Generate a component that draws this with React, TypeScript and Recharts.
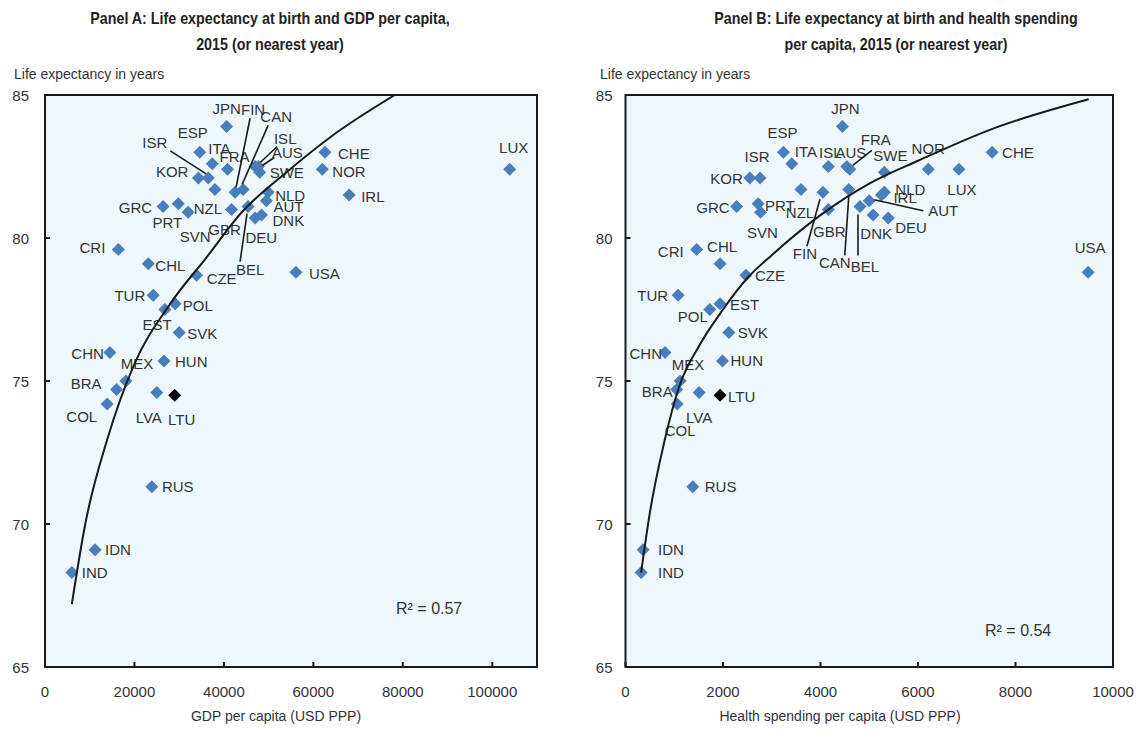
import { ScatterChart, Scatter, XAxis, YAxis, ReferenceArea } from "recharts";

// Country codes shared by both panels
const COUNTRIES = [
  "JPN", "ESP", "CHE", "ITA", "ISL", "AUS", "FRA", "ISR", "SWE", "KOR", "NOR",
  "LUX", "CAN", "NZL", "FIN", "NLD", "IRL", "AUT", "PRT", "BEL", "GRC", "GBR",
  "SVN", "DNK", "DEU", "CRI", "CHL", "USA", "CZE", "TUR", "EST", "POL", "SVK",
  "CHN", "HUN", "MEX", "BRA", "LVA", "LTU", "COL", "RUS", "IDN", "IND",
];

// Life expectancy at birth (years)
const LIFE_EXP = [
  83.9, 83.0, 83.0, 82.6, 82.5, 82.5, 82.4, 82.1, 82.3, 82.1, 82.4,
  82.4, 81.7, 81.7, 81.6, 81.6, 81.5, 81.3, 81.2, 81.1, 81.1, 81.0,
  80.9, 80.8, 80.7, 79.6, 79.1, 78.8, 78.7, 78.0, 77.7, 77.5, 76.7,
  76.0, 75.7, 75.0, 74.7, 74.6, 74.5, 74.2, 71.3, 69.1, 68.3,
];

// GDP per capita (USD PPP)
const GDP_PC = [
  40600, 34600, 62600, 37400, 47000, 47700, 40800, 36500, 48000, 34300, 62000,
  103900, 44300, 38000, 42500, 49900, 68000, 49500, 29800, 45400, 26400, 41700,
  32000, 48400, 47000, 16400, 23100, 56100, 33900, 24200, 29100, 26800, 30000,
  14500, 26600, 18100, 16000, 25000, 29000, 13900, 23900, 11200, 6000,
];

// Health spending per capita (USD PPP)
const HEALTH_PC = [
  4450, 3240, 7520, 3410, 4160, 4540, 4600, 2760, 5310, 2550, 6210,
  6840, 4580, 3600, 4050, 5310, 5250, 5000, 2720, 4810, 2280, 4160,
  2770, 5080, 5390, 1460, 1940, 9490, 2470, 1080, 1940, 1730, 2120,
  810, 1990, 1120, 1050, 1510, 1940, 1060, 1380, 360, 320,
];

const HIGHLIGHT = "LTU";

// Logarithmic trend lines
const TREND_GDP_X = [6000, 9000, 14000, 20000, 28000, 36000, 44000, 54000, 64000, 78200];
const TREND_GDP_Y = [67.2, 70.0, 73.0, 75.6, 77.7, 79.3, 80.9, 82.3, 83.55, 85.0];
const TREND_HEALTH_X = [320, 500, 800, 1100, 1500, 2000, 2500, 3000, 4000, 5000, 6000, 7500, 9500];
const TREND_HEALTH_Y = [68.3, 70.4, 72.9, 74.8, 76.2, 77.5, 78.6, 79.4, 80.8, 81.9, 82.7, 83.8, 84.85];

const GDP_TICKS = [0, 20000, 40000, 60000, 80000, 100000];
const HEALTH_TICKS = [0, 2000, 4000, 6000, 8000, 10000];
const LIFE_TICKS = [65, 70, 75, 80, 85];

const R2_GDP = "0.57";
const R2_HEALTH = "0.54";

type LabelPos = { dx: number; dy: number; a?: "start" | "middle" | "end"; line?: number[] };

// label offsets (px) from each marker centre
const LABELS_GDP: Record<string, LabelPos> = {
  JPN: { dx: 0, dy: -18, a: "middle" },
  FIN: { dx: 18, dy: -83, a: "middle", line: [15, -74, 1, -5] },
  CAN: { dx: 33, dy: -73, a: "middle", line: [25, -64, -1, -5] },
  ESP: { dx: -7, dy: -20, a: "middle" },
  ITA: { dx: -4, dy: -15 },
  ISR: { dx: -41, dy: -35, a: "end", line: [-38, -27, -2, -4] },
  KOR: { dx: -10, dy: -6, a: "end" },
  FRA: { dx: 7, dy: -13, a: "middle" },
  ISL: { dx: 30, dy: -28, a: "middle", line: [22, -20, 5, -4] },
  AUS: { dx: 29, dy: -14, a: "middle", line: [16, -9, 4, -1] },
  SWE: { dx: 10, dy: 0 },
  NLD: { dx: 7, dy: 3 },
  AUT: { dx: 7, dy: 6 },
  DNK: { dx: 11, dy: 5 },
  DEU: { dx: 6, dy: 20, a: "middle" },
  BEL: { dx: 2, dy: 63, a: "middle", line: [-8, 55, -1, 7] },
  GBR: { dx: -7, dy: 20, a: "middle" },
  SVN: { dx: 7, dy: 24, a: "middle" },
  PRT: { dx: -11, dy: 19, a: "middle" },
  NZL: { dx: -7, dy: 19, a: "middle" },
  GRC: { dx: -11, dy: 1, a: "end" },
  CHE: { dx: 13, dy: 1 },
  NOR: { dx: 10, dy: 2 },
  IRL: { dx: 12, dy: 1 },
  LUX: { dx: 4, dy: -22, a: "middle" },
  USA: { dx: 13, dy: 1 },
  CZE: { dx: 10, dy: 3 },
  CHL: { dx: 7, dy: 2 },
  CRI: { dx: -13, dy: -2, a: "end" },
  TUR: { dx: -8, dy: 0, a: "end" },
  EST: { dx: -18, dy: 21, a: "middle" },
  POL: { dx: 18, dy: -4 },
  SVK: { dx: 8, dy: 1 },
  CHN: { dx: -6, dy: 1, a: "end" },
  MEX: { dx: 11, dy: -18, a: "middle" },
  HUN: { dx: 11, dy: 1 },
  BRA: { dx: -15, dy: -6, a: "end" },
  COL: { dx: -10, dy: 13, a: "end" },
  LVA: { dx: -8, dy: 25, a: "middle" },
  LTU: { dx: 7, dy: 24, a: "middle" },
  RUS: { dx: 10, dy: 0 },
  IDN: { dx: 10, dy: 0 },
  IND: { dx: 10, dy: 0 },
};

const LABELS_HEALTH: Record<string, LabelPos> = {
  JPN: { dx: 3, dy: -18, a: "middle" },
  ESP: { dx: -1, dy: -20, a: "middle" },
  ISR: { dx: -3, dy: -21, a: "middle" },
  KOR: { dx: -7, dy: 1, a: "end" },
  ITA: { dx: 3, dy: -12 },
  ISL: { dx: 2, dy: -14, a: "middle" },
  AUS: { dx: 4, dy: -14, a: "middle" },
  FRA: { dx: 26, dy: -30, a: "middle", line: [22, -19, 3, -4] },
  SWE: { dx: 6, dy: -17, a: "middle" },
  NOR: { dx: 0, dy: -21, a: "middle" },
  LUX: { dx: 3, dy: 20, a: "middle" },
  CHE: { dx: 10, dy: 0 },
  NLD: { dx: 11, dy: -3 },
  IRL: { dx: 12, dy: 2 },
  AUT: { dx: 59, dy: 10, line: [54, 10, 5, -1] },
  DEU: { dx: 7, dy: 10 },
  DNK: { dx: 3, dy: 18, a: "middle" },
  BEL: { dx: 5, dy: 60, a: "middle", line: [-2, 49, -2, 8] },
  CAN: { dx: -14, dy: 73, a: "middle", line: [-4, 66, 0, 7] },
  FIN: { dx: -18, dy: 61, a: "middle", line: [-16, 54, -3, 7] },
  GBR: { dx: 1, dy: 22, a: "middle" },
  NZL: { dx: -1, dy: 23, a: "middle" },
  PRT: { dx: 7, dy: 2 },
  SVN: { dx: 2, dy: 20, a: "middle" },
  GRC: { dx: -7, dy: 1, a: "end" },
  CRI: { dx: -13, dy: 2, a: "end" },
  CHL: { dx: 2, dy: -17, a: "middle" },
  CZE: { dx: 9, dy: 0 },
  USA: { dx: 2, dy: -25, a: "middle" },
  TUR: { dx: -10, dy: 0, a: "end" },
  EST: { dx: 10, dy: 1 },
  POL: { dx: -2, dy: 7, a: "end" },
  SVK: { dx: 9, dy: 0 },
  CHN: { dx: -3, dy: 1, a: "end" },
  MEX: { dx: 8, dy: -17, a: "middle" },
  HUN: { dx: 8, dy: 0 },
  BRA: { dx: -4, dy: 2, a: "end" },
  LTU: { dx: 8, dy: 1 },
  LVA: { dx: 0, dy: 25, a: "middle" },
  COL: { dx: 3, dy: 27, a: "middle" },
  RUS: { dx: 12, dy: 0 },
  IDN: { dx: 15, dy: 0 },
  IND: { dx: 17, dy: 0 },
};

const FONT = "'Liberation Sans', Arial, sans-serif";
const BLUE = "#4a7ebb";
const INK = "#1a1a1a";
const TEXT = "#333";

const gdpPoints = COUNTRIES.map((code, i) => ({ code, x: GDP_PC[i], y: LIFE_EXP[i] }));
const healthPoints = COUNTRIES.map((code, i) => ({ code, x: HEALTH_PC[i], y: LIFE_EXP[i] }));
const gdpTrend = TREND_GDP_X.map((x, i) => ({ x, y: TREND_GDP_Y[i] }));
const healthTrend = TREND_HEALTH_X.map((x, i) => ({ x, y: TREND_HEALTH_Y[i] }));

const diamond = (p: any) => {
  const { cx, cy, payload } = p;
  const r = 6.5;
  return (
    <path
      d={`M${cx},${cy - r}L${cx + r},${cy}L${cx},${cy + r}L${cx - r},${cy}Z`}
      fill={payload.code === HIGHLIGHT ? "#000" : BLUE}
    />
  );
};

const countryLabel = (table: Record<string, LabelPos>) => (p: any) => {
  const { cx, cy, payload } = p;
  const pos = table[payload.code];
  if (!pos) return <g />;
  const l = pos.line;
  return (
    <g>
      {l && (
        <line x1={cx + l[0]} y1={cy + l[1]} x2={cx + l[2]} y2={cy + l[3]} stroke={INK} strokeWidth={1.6} />
      )}
      <text
        x={cx + pos.dx}
        y={cy + pos.dy}
        textAnchor={pos.a ?? "start"}
        dominantBaseline="central"
        fontFamily={FONT}
        fontSize={15}
        fill={TEXT}
      >
        {payload.code}
      </text>
    </g>
  );
};

// inward tick marks; label positions come from the axis (tickSize 0 + tickMargin)
const X_GAP = 24;
const XTick = (props: any) => {
  const { x, y, payload } = props;
  return (
    <g>
      <line x1={x} x2={x} y1={y - X_GAP} y2={y - X_GAP - 5} stroke={INK} strokeWidth={2} />
      <text x={x} y={y} textAnchor="middle" dominantBaseline="central" fontFamily={FONT} fontSize={15} fill={TEXT}>
        {payload.value}
      </text>
    </g>
  );
};

const makeYTick = (gap: number) => (props: any) => {
  const { x, y, payload } = props;
  return (
    <g>
      <line x1={x + gap} x2={x + gap + 5} y1={y} y2={y} stroke={INK} strokeWidth={2} />
      <text x={x} y={y} textAnchor="end" dominantBaseline="central" fontFamily={FONT} fontSize={15} fill={TEXT}>
        {payload.value}
      </text>
    </g>
  );
};

function Panel({
  left,
  margin,
  xMax,
  xTicks,
  yGap,
  points,
  trend,
  labels,
}: {
  left: number;
  margin: { top: number; right: number; bottom: number; left: number };
  xMax: number;
  xTicks: number[];
  yGap: number;
  points: { code: string; x: number; y: number }[];
  trend: { x: number; y: number }[];
  labels: Record<string, LabelPos>;
}) {
  return (
    <div style={{ position: "absolute", left, top: 0 }}>
      <ScatterChart width={570} height={731} margin={margin}>
        <ReferenceArea
          x1={0}
          x2={xMax}
          y1={65}
          y2={85}
          fill="#eef8fc"
          fillOpacity={1}
          stroke={INK}
          strokeWidth={2}
        />
        <XAxis
          type="number"
          dataKey="x"
          domain={[0, xMax]}
          ticks={xTicks}
          height={30}
          axisLine={false}
          tickLine={false}
          tickSize={0}
          tickMargin={X_GAP}
          tick={XTick}
          interval={0}
          allowDataOverflow
        />
        <YAxis
          type="number"
          dataKey="y"
          domain={[65, 85]}
          ticks={LIFE_TICKS}
          width={30}
          axisLine={false}
          tickLine={false}
          tickSize={0}
          tickMargin={yGap}
          tick={makeYTick(yGap)}
          interval={0}
          allowDataOverflow
        />
        <Scatter data={points} shape={diamond} isAnimationActive={false} />
        <Scatter data={points} shape={countryLabel(labels)} isAnimationActive={false} />
        <Scatter
          data={trend}
          line={{ stroke: INK, strokeWidth: 2 }}
          lineJointType="monotoneX"
          shape={() => <g />}
          isAnimationActive={false}
        />
      </ScatterChart>
    </div>
  );
}

function Txt({
  x,
  y,
  children,
  size = 14,
  center = false,
}: {
  x: number;
  y: number;
  children: React.ReactNode;
  size?: number;
  center?: boolean;
}) {
  return (
    <div
      style={{
        position: "absolute",
        left: x,
        top: y,
        transform: center ? "translate(-50%, -50%)" : "translate(0, -50%)",
        whiteSpace: "nowrap",
        fontFamily: FONT,
        fontSize: size,
        color: TEXT,
        lineHeight: 1,
      }}
    >
      {children}
    </div>
  );
}

// bold condensed panel heading
function Title({ x, y, children }: { x: number; y: number; children: React.ReactNode }) {
  return (
    <div
      style={{
        position: "absolute",
        left: x,
        top: y,
        transform: "translate(-50%, -50%) scaleX(0.84)",
        whiteSpace: "nowrap",
        fontFamily: FONT,
        fontSize: 17,
        fontWeight: 700,
        color: "#222",
        lineHeight: 1,
      }}
    >
      {children}
    </div>
  );
}

export default function App() {
  return (
    <div style={{ position: "absolute", left: 0, top: 0, width: 1140, height: 731, background: "#fff", overflow: "hidden" }}>
      <Panel
        left={0}
        margin={{ top: 95, right: 33, bottom: 34, left: 15 }}
        xMax={110000}
        xTicks={GDP_TICKS}
        yGap={16}
        points={gdpPoints}
        trend={gdpTrend}
        labels={LABELS_GDP}
      />
      <Panel
        left={570}
        margin={{ top: 95, right: 27, bottom: 34, left: 25.5 }}
        xMax={10000}
        xTicks={HEALTH_TICKS}
        yGap={13}
        points={healthPoints}
        trend={healthTrend}
        labels={LABELS_HEALTH}
      />

      <Title x={270} y={18}>Panel A: Life expectancy at birth and GDP per capita,</Title>
      <Title x={270} y={44}>2015 (or nearest year)</Title>
      <Title x={896} y={18}>Panel B: Life expectancy at birth and health spending</Title>
      <Title x={896} y={44}>per capita, 2015 (or nearest year)</Title>

      <Txt x={14} y={74}>Life expectancy in years</Txt>
      <Txt x={600} y={74}>Life expectancy in years</Txt>

      <Txt x={276} y={716} center>GDP per capita (USD PPP)</Txt>
      <Txt x={840} y={716} center>Health spending per capita (USD PPP)</Txt>

      <Txt x={396} y={609} size={16}>R² = {R2_GDP}</Txt>
      <Txt x={985} y={631} size={16}>R² = {R2_HEALTH}</Txt>
    </div>
  );
}
